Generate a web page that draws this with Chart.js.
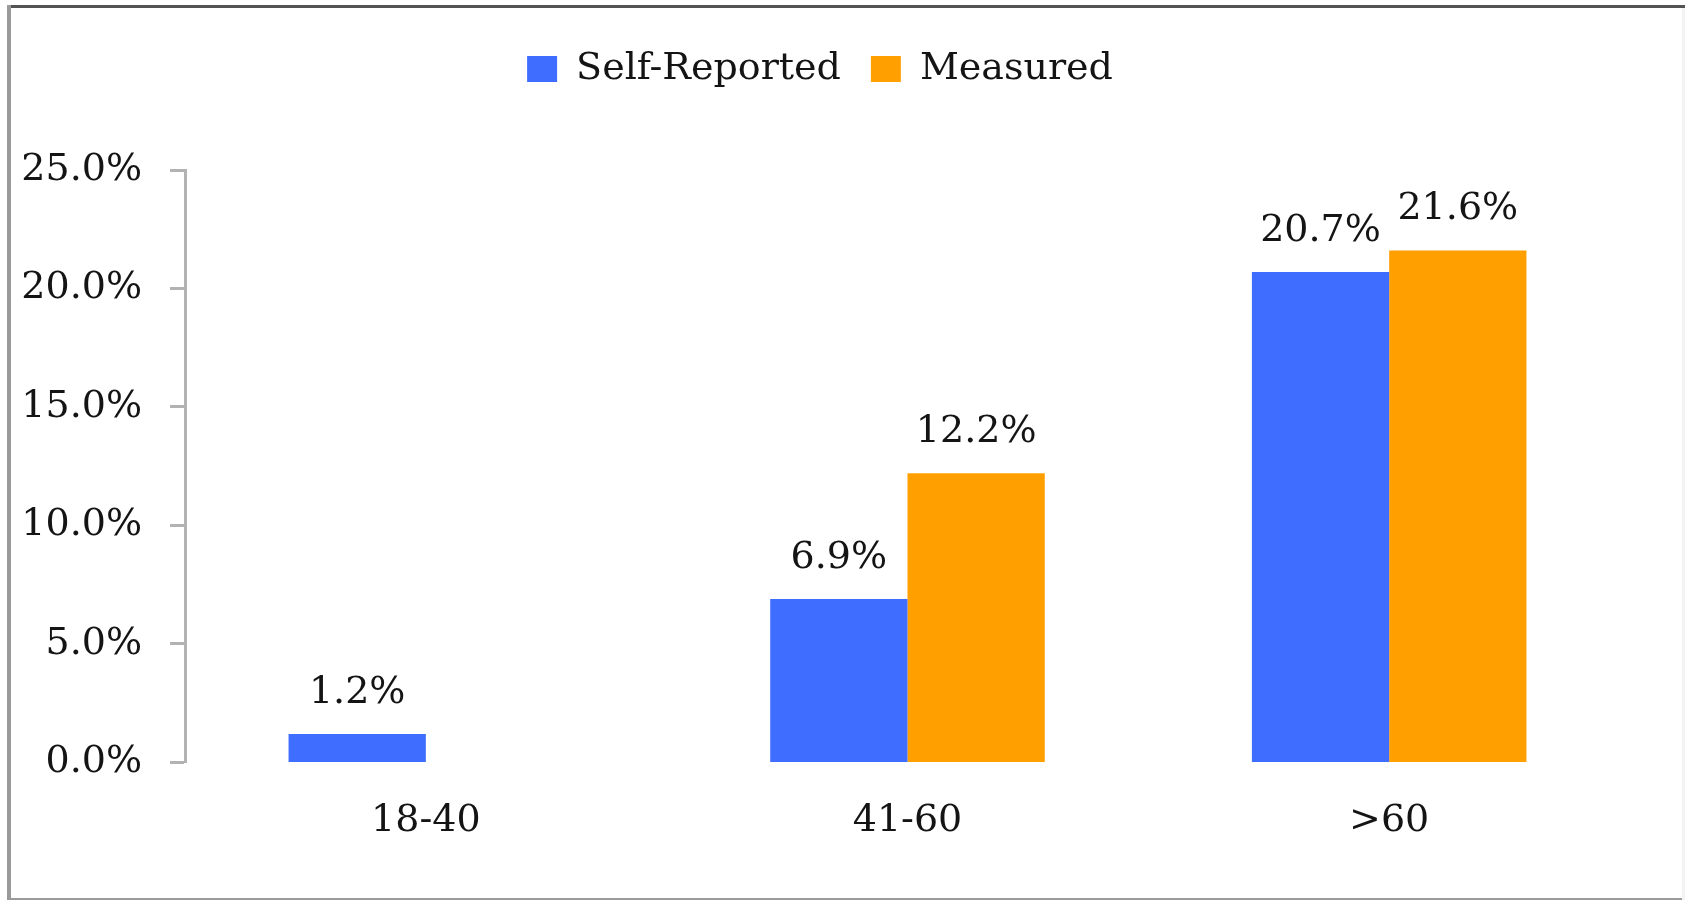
<!DOCTYPE html>
<html>
<head>
<meta charset="utf-8">
<title>Self-Reported vs Measured</title>
<script src="https://cdn.jsdelivr.net/npm/chart.js@4.4.1/dist/chart.umd.min.js"></script>
<style>
    html, body { margin: 0; padding: 0; background: #fff; }
    #wrap { position: relative; width: 1685px; height: 900px; overflow: hidden; }
    #chartCanvas { position: absolute; left: 0; top: 0; }
    .edge { position: absolute; }
    #edgeTop { left: 7px; top: 5px; width: 1678px; height: 3px; background: #545454; }
    #edgeLeft { left: 7px; top: 5px; width: 4px; height: 895px; background: #9a9a9a; }
    #edgeBottom { left: 7px; top: 898px; width: 1678px; height: 2px; background: #9a9a9a; }
    #edgeRight { left: 1682px; top: 8px; width: 3px; height: 892px; background: #f3f3f3; }
</style>
</head>
<body>
<div id="wrap">
    <canvas id="chartCanvas" width="1685" height="900"></canvas>
    <div class="edge" id="edgeTop"></div>
    <div class="edge" id="edgeLeft"></div>
    <div class="edge" id="edgeBottom"></div>
    <div class="edge" id="edgeRight"></div>
</div>
<script>
// dados
const ageGroups = ['18-40', '41-60', '>60'];
const selfReported = [1.2, 6.9, 20.7];
const measured = [null, 12.2, 21.6];
const yTicks = [0, 5, 10, 15, 20, 25];

const FONT = "'DejaVu Serif', 'Liberation Serif', serif";
const TEXT_COLOR = '#141414';
const AXIS_COLOR = '#b2b2b2';

// rótulos de valor acima das barras
const barValueLabels = {
    id: 'barValueLabels',
    afterDatasetsDraw(chart) {
        const ctx = chart.ctx;
        ctx.save();
        ctx.font = '38px ' + FONT;
        ctx.fillStyle = TEXT_COLOR;
        ctx.textAlign = 'center';
        ctx.textBaseline = 'middle';
        chart.data.datasets.forEach((ds, i) => {
            const meta = chart.getDatasetMeta(i);
            meta.data.forEach((bar, j) => {
                const v = ds.data[j];
                if (v === null || v === undefined) return;
                ctx.fillText(v.toFixed(1) + '%', bar.x, bar.y - 41);
            });
        });
        ctx.restore();
    }
};

// altura fixa da legenda
const legendHeight = {
    id: 'legendHeight',
    beforeInit(chart) {
        const origFit = chart.legend.fit;
        chart.legend.fit = function () {
            origFit.bind(chart.legend)();
            this.height = 150;
        };
    }
};

document.addEventListener('DOMContentLoaded', () => {
    const canvas = document.getElementById('chartCanvas');
    if (typeof Chart === 'undefined' || !canvas) return;

    new Chart(canvas, {
        type: 'bar',
        data: {
            labels: ageGroups,
            datasets: [
                {
                    label: 'Self-Reported',
                    data: selfReported,
                    backgroundColor: '#3e6dff',
                    borderWidth: 0
                },
                {
                    label: 'Measured',
                    data: measured,
                    backgroundColor: '#ffa000',
                    borderWidth: 0
                }
            ]
        },
        options: {
            responsive: false,
            animation: false,
            layout: { padding: { left: 10, right: 55, top: 20, bottom: 20 } },
            datasets: {
                bar: { categoryPercentage: 0.57, barPercentage: 1.0 }
            },
            plugins: {
                legend: {
                    position: 'top',
                    align: 'center',
                    labels: {
                        boxWidth: 30,
                        boxHeight: 26,
                        padding: 30,
                        color: TEXT_COLOR,
                        font: { family: FONT, size: 38 }
                    }
                },
                tooltip: { enabled: false }
            },
            scales: {
                x: {
                    grid: { display: false, drawTicks: false },
                    border: { display: false },
                    ticks: {
                        color: TEXT_COLOR,
                        padding: 36,
                        font: { family: FONT, size: 38 }
                    }
                },
                y: {
                    min: 0,
                    max: 25,
                    afterBuildTicks(scale) {
                        scale.ticks = yTicks.map(v => ({ value: v }));
                    },
                    afterFit(scale) { scale.width = 175; },
                    grid: {
                        drawOnChartArea: false,
                        drawTicks: true,
                        tickLength: 15,
                        tickWidth: 3,
                        tickColor: AXIS_COLOR
                    },
                    border: { display: true, color: AXIS_COLOR, width: 3 },
                    ticks: {
                        color: TEXT_COLOR,
                        padding: 28,
                        font: { family: FONT, size: 38 },
                        callback: (v) => Number(v).toFixed(1) + '%'
                    }
                }
            }
        },
        plugins: [barValueLabels, legendHeight]
    });
});
</script>
</body>
</html>
